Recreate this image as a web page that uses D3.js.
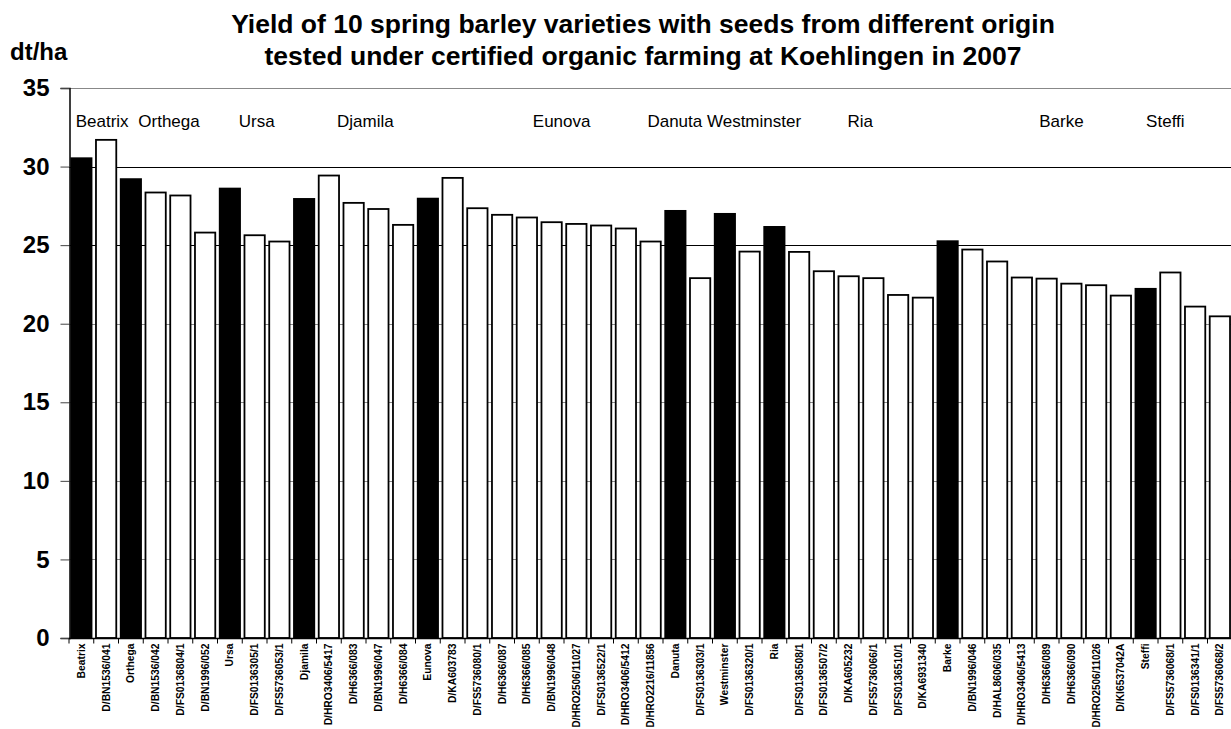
<!DOCTYPE html>
<html>
<head>
<meta charset="utf-8">
<script src="https://cdn.jsdelivr.net/npm/d3@7"></script>
<style>
  body { margin: 0; background: #fff; }
  svg { display: block; font-family: "Liberation Sans", Arial, sans-serif; }
</style>
</head>
<body>
<svg id="chart"></svg>
<script>
// seed origins, in the order of the bars
const origins = ["Beatrix", "D/BN1536/041", "Orthega", "D/BN1536/042", "D/FS0136804/1", "D/BN1996/052",
    "Ursa", "D/FS0136305/1", "D/FS5736053/1", "Djamila", "D/HRO3406/5417", "D/H6366/083", "D/BN1996/047",
    "D/H6366/084", "Eunova", "D/KA603783", "D/FS5736080/1", "D/H6366/087", "D/H6366/085", "D/BN1996/048",
    "D/HRO2506/11027", "D/FS0136522/1", "D/HRO3406/5412", "D/HRO2216/11856", "Danuta", "D/FS0136303/1",
    "Westminster", "D/FS0136320/1", "Ria", "D/FS0136508/1", "D/FS0136507/2", "D/KA605232", "D/FS5736066/1",
    "D/FS0136510/1", "D/KA6931340", "Barke", "D/BN1996/046", "D/HAL8606/035", "D/HRO3406/5413", "D/H6366/089",
    "D/H6366/090", "D/HRO2506/11026", "D/KI6537042A", "Steffi", "D/FS5736068/1", "D/FS0136341/1", "D/FS5736068/2"];

// yield in dt/ha
const yields = [30.53, 31.7, 29.2, 28.35, 28.16, 25.8, 28.6, 25.63, 25.23, 27.94, 29.43, 27.69, 27.3,
    26.29, 27.96, 29.28, 27.35, 26.93, 26.76, 26.46, 26.35, 26.25, 26.06, 25.23, 27.18, 22.9,
    26.99, 24.59, 26.16, 24.57, 23.34, 23.02, 22.9, 21.83, 21.66, 25.25, 24.72, 23.96, 22.94, 22.87,
    22.55, 22.45, 21.79, 22.22, 23.26, 21.09, 20.47];

// reference seed of each variety (black bars)
const varieties = ["Beatrix", "Orthega", "Ursa", "Djamila", "Eunova", "Danuta", "Westminster", "Ria", "Barke", "Steffi"];

const yTicks = [0, 5, 10, 15, 20, 25, 30, 35];

// variety names written inside the plot, position in bar units
const noteText = ["Beatrix", "Orthega", "Ursa", "Djamila", "Eunova", "Danuta Westminster", "Ria", "Barke", "Steffi"];
const notePos = [0.27, 2.8, 6.86, 10.83, 18.74, 23.37, 31.45, 39.2, 43.52];

const width = 1231, height = 729;
const plotLeft = 69, plotTop = 88, plotBottom = 638;
const step = 24.75;
const plotRight = plotLeft + step * origins.length;

const svg = d3.select("#chart").attr("width", width).attr("height", height);

const x = d3.scaleBand().domain(origins).range([plotLeft, plotRight]).paddingInner(0.18).paddingOuter(0.09);
const y = d3.scaleLinear().domain([0, 35]).range([plotBottom, plotTop]);
const xPos = d3.scaleLinear().domain([0, origins.length]).range([plotLeft, plotRight]);

// title
svg.append("text")
    .attr("x", 643).attr("text-anchor", "middle")
    .attr("font-size", 26.5).attr("font-weight", "bold")
    .selectAll("tspan")
    .data(["Yield of 10 spring barley varieties with seeds from different origin",
           "tested under certified organic farming at Koehlingen in 2007"])
    .enter().append("tspan")
    .attr("x", 643)
    .attr("y", (d, i) => 33 + i * 32)
    .text(d => d);

svg.append("text")
    .attr("x", 10).attr("y", 60)
    .attr("font-size", 24).attr("font-weight", "bold")
    .text("dt/ha");

// gridlines
svg.append("g")
    .selectAll("line")
    .data(yTicks.filter(d => d > 0))
    .enter().append("line")
    .attr("x1", plotLeft).attr("x2", width)
    .attr("y1", d => Math.round(y(d)) + 0.5)
    .attr("y2", d => Math.round(y(d)) + 0.5)
    .attr("stroke", d => (d === 25 || d === 30) ? "#000" : "#888")
    .attr("stroke-width", 1);

// bars
svg.append("g")
    .selectAll("rect")
    .data(origins)
    .enter().append("rect")
    .attr("x", d => x(d))
    .attr("y", (d, i) => y(yields[i]))
    .attr("width", x.bandwidth())
    .attr("height", (d, i) => plotBottom - y(yields[i]))
    .attr("fill", d => varieties.includes(d) ? "#000" : "#fff")
    .attr("stroke", "#000")
    .attr("stroke-width", 1.8);

// y axis
const yAxis = svg.append("g")
    .attr("transform", `translate(${plotLeft + 0.5},0)`)
    .call(d3.axisLeft(y).tickValues(yTicks).tickSize(9).tickPadding(11));
yAxis.select(".domain").attr("stroke", "#000").attr("stroke-width", 1.5);
yAxis.selectAll(".tick line").attr("stroke", "#444");
yAxis.selectAll(".tick text")
    .attr("font-family", "Liberation Sans, Arial, sans-serif")
    .attr("font-size", 24).attr("font-weight", "bold").attr("fill", "#000");

// x axis
const xAxis = svg.append("g")
    .attr("transform", `translate(0,${plotBottom + 0.5})`);
xAxis.append("line")
    .attr("x1", plotLeft).attr("x2", width)
    .attr("stroke", "#000").attr("stroke-width", 1.5);
xAxis.selectAll(".tk")
    .data(d3.range(origins.length + 1))
    .enter().append("line")
    .attr("class", "tk")
    .attr("x1", d => xPos(d)).attr("x2", d => xPos(d))
    .attr("y1", 0).attr("y2", 5)
    .attr("stroke", "#000");
const labelRoom = height - plotBottom - 7;
xAxis.selectAll("text")
    .data(origins)
    .enter().append("text")
    .attr("transform", d => `translate(${x(d) + x.bandwidth() / 2},5) rotate(-90)`)
    .attr("text-anchor", "end")
    .attr("dy", "0.35em")
    .attr("font-size", 10.3).attr("font-weight", "bold")
    .text(d => d)
    .each(function () {
        // squeeze the longest names so they stay inside the picture
        if (this.getComputedTextLength() > labelRoom) {
            d3.select(this).attr("textLength", labelRoom).attr("lengthAdjust", "spacingAndGlyphs");
        }
    });

// variety notes
svg.append("g")
    .selectAll("text")
    .data(noteText)
    .enter().append("text")
    .attr("x", (d, i) => xPos(notePos[i]))
    .attr("y", 127)
    .attr("font-size", 17)
    .text(d => d);
</script>
</body>
</html>
